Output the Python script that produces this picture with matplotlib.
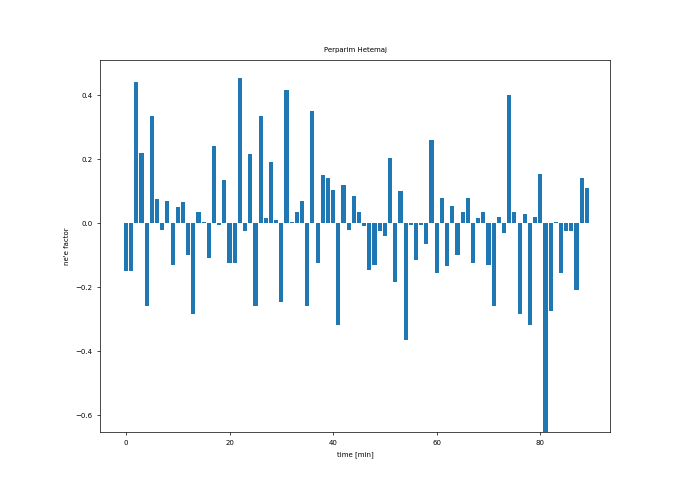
import matplotlib
matplotlib.use("Agg")
import matplotlib.pyplot as plt

minutes = list(range(90))
factor = [-0.15, -0.15, 0.44, 0.22, -0.26, 0.335, 0.075, -0.02, 0.07, -0.13,
          0.05, 0.065, -0.10, -0.285, 0.035, 0.005, -0.11, 0.24, -0.005, 0.135,
          -0.125, -0.125, 0.455, -0.025, 0.215, -0.26, 0.335, 0.015, 0.19, 0.01,
          -0.245, 0.415, 0.005, 0.035, 0.07, -0.26, 0.35, -0.125, 0.15, 0.14,
          0.105, -0.32, 0.12, -0.02, 0.085, 0.035, -0.01, -0.145, -0.13, -0.025,
          -0.04, 0.205, -0.185, 0.10, -0.365, -0.005, -0.115, -0.005, -0.065, 0.26,
          -0.155, 0.08, -0.135, 0.055, -0.10, 0.035, 0.08, -0.125, 0.015, 0.035,
          -0.13, -0.26, 0.02, -0.03, 0.40, 0.035, -0.285, 0.03, -0.32, 0.02,
          0.155, -0.67, -0.275, 0.005, -0.155, -0.025, -0.025, -0.21, 0.14, 0.11]

fig = plt.figure(figsize=(6.95, 4.94), dpi=100)
ax = fig.add_axes([0.144, 0.1255, 0.734, 0.753])
ax.bar(minutes, factor, color="#1f77b4")
ax.set_xlim(-5, 93.5)
ax.set_ylim(-0.653, 0.51)
ax.set_title("Perparim Hetemaj", fontsize=5)
ax.set_xlabel("time [min]", fontsize=5)
ax.set_ylabel("ne'e factor", fontsize=5)
ax.tick_params(labelsize=5, length=2, width=0.5)
for s in ax.spines.values():
    s.set_linewidth(0.5)
fig.savefig("out.png", dpi=100)
